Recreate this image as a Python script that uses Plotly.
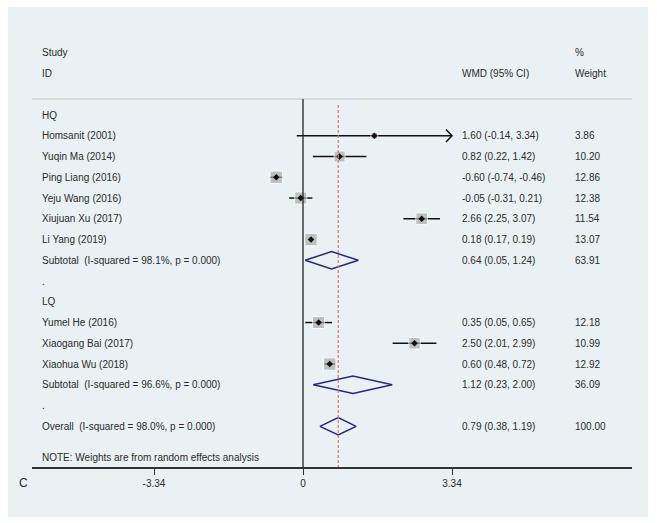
import plotly.graph_objects as go

# study-level data (WMD, 95% CI, % weight)
study = ["Homsanit (2001)", "Yuqin Ma (2014)", "Ping Liang (2016)", "Yeju Wang (2016)",
         "Xiujuan Xu (2017)", "Li Yang (2019)",
         "Yumel He (2016)", "Xiaogang Bai (2017)", "Xiaohua Wu (2018)"]
est = [1.60, 0.82, -0.60, -0.05, 2.66, 0.18, 0.35, 2.50, 0.60]
lo = [-0.14, 0.22, -0.74, -0.31, 2.25, 0.17, 0.05, 2.01, 0.48]
hi = [3.34, 1.42, -0.46, 0.21, 3.07, 0.19, 0.65, 2.99, 0.72]
weight = [3.86, 10.20, 12.86, 12.38, 11.54, 13.07, 12.18, 10.99, 12.92]
study_row = [1, 2, 3, 4, 5, 6, 10, 11, 12]

# pooled estimates
pooled = ["Subtotal  (I-squared = 98.1%, p = 0.000)",
          "Subtotal  (I-squared = 96.6%, p = 0.000)",
          "Overall  (I-squared = 98.0%, p = 0.000)"]
p_est = [0.64, 1.12, 0.79]
p_lo = [0.05, 0.23, 0.38]
p_hi = [1.24, 2.00, 1.19]
p_weight = [63.91, 36.09, 100.00]
pooled_row = [7, 13, 15]

groups = ["HQ", ".", "LQ", "."]
group_row = [0, 8, 9, 14]

ticks = [-3.34, 0, 3.34]
tick_text = ["-3.34", "0", "3.34"]

W, H = 657, 523
X0, X1, Y0, Y1 = 32, 632, 32, 467
px_unit = 149 / 3.34
xr = [(X0 - 303) / px_unit, (X1 - 303) / px_unit]
yr = [16.96, -4.0]
xmax = max(ticks)

TXT = "#2b2b2b"
FONT = "Liberation Sans, Arial, sans-serif"

fig = go.Figure()

# CI lines (clipped at axis max, with arrow)
for e, l, h, r in zip(est, lo, hi, study_row):
    hh = min(h, xmax)
    fig.add_trace(go.Scatter(x=[l, hh], y=[r, r], mode="lines",
                             line=dict(color="#111111", width=1.5), hoverinfo="skip"))
    if h >= xmax:
        d = 6 / px_unit
        fig.add_trace(go.Scatter(x=[hh - d, hh, hh - d], y=[r - 0.3, r, r + 0.3], mode="lines",
                                 line=dict(color="#111111", width=1.5), hoverinfo="skip"))

# weight boxes
fig.add_trace(go.Scatter(x=est, y=study_row, mode="markers",
                         marker=dict(symbol="square", color="#ababab",
                                     size=[3.45 * w ** 0.5 for w in weight]),
                         hoverinfo="skip"))
# point estimates
fig.add_trace(go.Scatter(x=est, y=study_row, mode="markers",
                         marker=dict(symbol="diamond", color="#111111", size=5),
                         hoverinfo="skip"))

# pooled diamonds
for e, l, h, r in zip(p_est, p_lo, p_hi, pooled_row):
    fig.add_trace(go.Scatter(x=[l, e, h, e, l], y=[r, r - 0.42, r, r + 0.42, r], mode="lines",
                             line=dict(color="#232a7a", width=1.5), hoverinfo="skip"))

shapes = [
    dict(type="rect", xref="paper", yref="paper", x0=8 / W, x1=648 / W,
         y0=1 - 517 / H, y1=1 - 7 / H, fillcolor="#eaf1f4", line_width=0, layer="below"),
    dict(type="line", xref="paper", yref="y", x0=X0 / W, x1=X1 / W, y0=-0.77, y1=-0.77,
         line=dict(color="#d4d4d4", width=1.5)),
    dict(type="line", xref="x", yref="y", x0=0, x1=0, y0=-0.77, y1=yr[0],
         line=dict(color="#222222", width=1.3)),
    dict(type="line", xref="x", yref="y", x0=p_est[-1], x1=p_est[-1], y0=-0.48, y1=yr[0],
         line=dict(color="#d97a70", width=1.2, dash="3px,2px")),
]

ann = []
def txt(xpx, y, s):
    ann.append(dict(xref="paper", yref="y", x=xpx / W, y=y, text=s, showarrow=False,
                    xanchor="left", yanchor="middle", font=dict(size=10, color=TXT, family=FONT)))

txt(40, -3, "Study")
txt(40, -2, "ID")
txt(573, -3, "%")
txt(460, -2, "WMD (95% CI)")
txt(573, -2, "Weight")
for g, r in zip(groups, group_row):
    txt(40, r, g)
for s, e, l, h, w, r in zip(study, est, lo, hi, weight, study_row):
    txt(40, r, s)
    txt(460, r, f"{e:.2f} ({l:.2f}, {h:.2f})")
    txt(573, r, f"{w:.2f}")
for s, e, l, h, w, r in zip(pooled, p_est, p_lo, p_hi, p_weight, pooled_row):
    txt(40, r, s)
    txt(460, r, f"{e:.2f} ({l:.2f}, {h:.2f})")
    txt(573, r, f"{w:.2f}")
txt(40, 16.5, "NOTE: Weights are from random effects analysis")
ann.append(dict(xref="paper", yref="paper", x=23 / W, y=1 - 483 / H, text="C", showarrow=False,
                xanchor="center", yanchor="middle", font=dict(size=12, color=TXT, family=FONT)))

fig.update_layout(
    width=W, height=H, margin=dict(l=0, r=0, t=0, b=0),
    paper_bgcolor="white", plot_bgcolor="white", showlegend=False,
    shapes=shapes, annotations=ann,
    xaxis=dict(domain=[X0 / W, X1 / W], range=xr, showgrid=False, zeroline=False,
               showline=True, linecolor="#333333", linewidth=1.5,
               ticks="outside", ticklen=6, tickcolor="#333333", tickwidth=1.3,
               tickvals=ticks, ticktext=tick_text,
               tickfont=dict(size=10, color=TXT, family=FONT)),
    yaxis=dict(domain=[1 - Y1 / H, 1 - Y0 / H], range=yr, visible=False),
)

# drop the default body margin so the figure sits at the page origin
fig.write_html("out.html", config={"displayModeBar": False},
               post_script="document.body.style.margin='0';document.body.style.overflow='hidden';")
